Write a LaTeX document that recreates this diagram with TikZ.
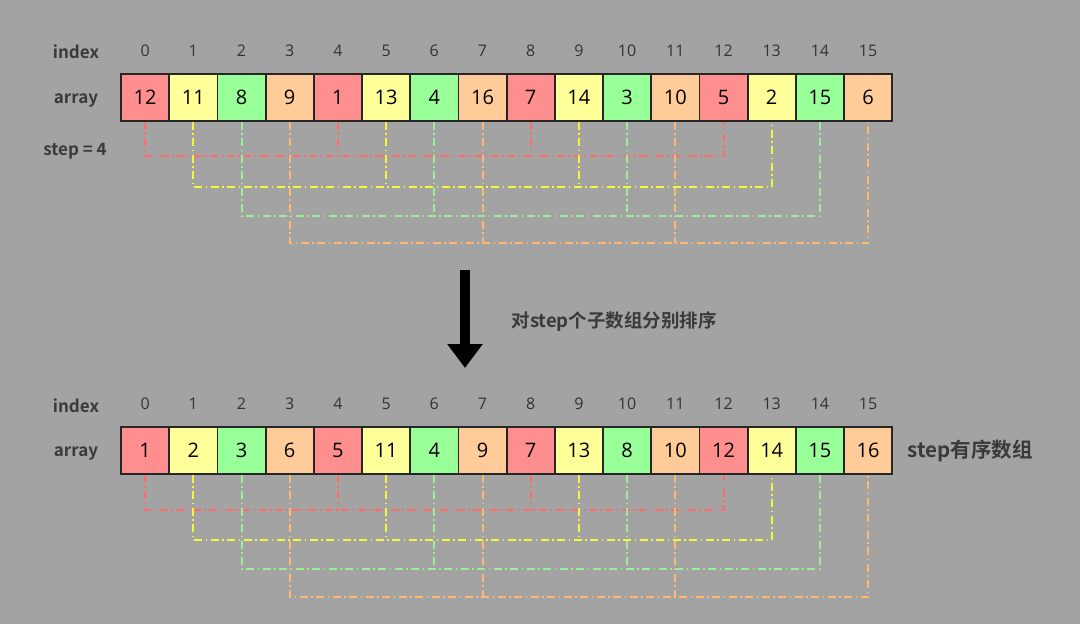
\documentclass[tikz,border=0pt]{standalone}
\usepackage{fontspec}
\setmainfont{Open Sans}
\newfontfamily\cjkbold{Noto Sans CJK SC Bold}
\usetikzlibrary{arrows.meta}

\definecolor{bgc}{HTML}{A3A3A3}
\definecolor{fillc0}{HTML}{FF8F8F}
\definecolor{fillc1}{HTML}{FFFF99}
\definecolor{fillc2}{HTML}{99FF99}
\definecolor{fillc3}{HTML}{FFCC99}
\definecolor{linec0}{HTML}{FF6B6B}
\definecolor{linec1}{HTML}{F5F53A}
\definecolor{linec2}{HTML}{99F099}
\definecolor{linec3}{HTML}{FFB870}
\definecolor{labelc}{HTML}{3A3A3A}

\tikzset{
  cell/.style={draw=black!85, line width=1.8pt, minimum width=48.2pt, minimum height=47pt,
    inner sep=0pt, font=\fontsize{20}{20}\selectfont},
  idx/.style={text=black!80, font=\fontsize{16}{16}\selectfont},
  lbl/.style={text=labelc, font=\cjkbold\fontsize{17}{17}\selectfont},
  grp/.style={line width=2pt, dash pattern=on 8pt off 3.5pt on 1.5pt off 3.5pt}
}

\begin{document}
\begin{tikzpicture}[x=1pt, y=-1pt]
    \fill[bgc] (0,0) rectangle (1080,624);

    \node[lbl] (idxA) at (76, 52) {index};
    \node[lbl] (arrA) at (76, 101) {array};
    \node[lbl] (stepA) at (75, 151) {step = 4};
    \foreach \v [count=\i from 0] in {12,11,8,9,1,13,4,16,7,14,3,10,5,2,15,6} {
        \pgfmathtruncatemacro\g{mod(\i,4)}
        \node[cell, fill=fillc\g] (a\i) at (145.1+48.2*\i, 97.5) {\v};
        \node[idx] (ia\i) at (145.1+48.2*\i, 51) {\i};
    }
    \foreach \r/\ly in {0/156, 1/187, 2/216, 3/243} {
        \pgfmathtruncatemacro\ma{\r+4}
        \pgfmathtruncatemacro\mb{\r+8}
        \pgfmathtruncatemacro\last{\r+12}
        \coordinate (lva\r) at (a\r.south |- 0,\ly);
        \draw[grp, linec\r] (a\r.south) -- (lva\r) -| (a\last.south);
        \draw[grp, linec\r] (a\ma.south) -- (a\ma.south |- lva\r);
        \draw[grp, linec\r] (a\mb.south) -- (a\mb.south |- lva\r);
    }

    \coordinate (arrtop) at (465, 270);
    \coordinate (arrbot) at (465, 368);
    \draw[line width=10pt, -{Triangle[width=34pt, length=24pt]}] (arrtop) -- (arrbot);
    \node[lbl, anchor=west, font=\cjkbold\fontsize{18.5}{18.5}\selectfont] (sortTxt) at (508, 322) {对step个子数组分别排序};

    \node[lbl] (idxB) at (76, 406) {index};
    \node[lbl] (arrB) at (76, 454) {array};
    \foreach \v [count=\i from 0] in {1,2,3,6,5,11,4,9,7,13,8,10,12,14,15,16} {
        \pgfmathtruncatemacro\g{mod(\i,4)}
        \node[cell, fill=fillc\g] (b\i) at (145.1+48.2*\i, 450.5) {\v};
        \node[idx] (ib\i) at (145.1+48.2*\i, 404) {\i};
    }
    \node[lbl, anchor=west, font=\cjkbold\fontsize{20.5}{20.5}\selectfont] (doneTxt) at (904, 451) {step有序数组};
    \foreach \r/\ly in {0/510, 1/540, 2/569, 3/597} {
        \pgfmathtruncatemacro\ma{\r+4}
        \pgfmathtruncatemacro\mb{\r+8}
        \pgfmathtruncatemacro\last{\r+12}
        \coordinate (lvb\r) at (b\r.south |- 0,\ly);
        \draw[grp, linec\r] (b\r.south) -- (lvb\r) -| (b\last.south);
        \draw[grp, linec\r] (b\ma.south) -- (b\ma.south |- lvb\r);
        \draw[grp, linec\r] (b\mb.south) -- (b\mb.south |- lvb\r);
    }
\end{tikzpicture}
\end{document}
